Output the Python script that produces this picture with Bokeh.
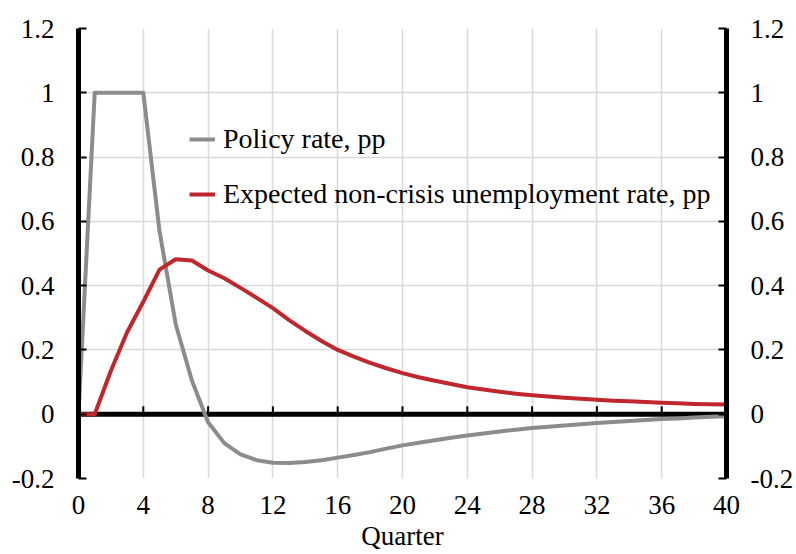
import numpy as np
from bokeh.plotting import figure
from bokeh.models import LinearAxis, FixedTicker, Span, Legend, LegendItem, Range1d
from bokeh.embed import file_html
from bokeh.resources import INLINE

quarters = list(range(41))
policy_rate = [0, 1, 1, 1, 1, 0.57, 0.28, 0.105, -0.025, -0.09, -0.125, -0.143, -0.151,
               -0.152, -0.149, -0.143, -0.135, -0.127, -0.118, -0.107, -0.097, -0.089,
               -0.081, -0.073, -0.066, -0.060, -0.054, -0.048, -0.043, -0.039, -0.035,
               -0.031, -0.027, -0.024, -0.021, -0.018, -0.015, -0.013, -0.010, -0.008, -0.006]
unemployment = [0, 0, 0.135, 0.255, 0.35, 0.45, 0.482, 0.478, 0.447, 0.423, 0.393, 0.362,
                0.33, 0.293, 0.259, 0.228, 0.2, 0.179, 0.16, 0.143, 0.128, 0.115, 0.104,
                0.094, 0.084, 0.077, 0.07, 0.064, 0.059, 0.055, 0.051, 0.048, 0.045, 0.042,
                0.04, 0.038, 0.036, 0.034, 0.032, 0.031, 0.03]
x_ticks = [0, 4, 8, 12, 16, 20, 24, 28, 32, 36, 40]
y_ticks = [-0.2, 0.0, 0.2, 0.4, 0.6, 0.8, 1.0, 1.2]
y_tick_labels = ["-0.2", "0", "0.2", "0.4", "0.6", "0.8", "1", "1.2"]
series_names = ["Policy rate, pp", "Expected non-crisis unemployment rate, pp"]

FONT = "Liberation Serif"
FS = "27px"
LFS = "28px"
GRID = "#d9d9d9"
GREY = "#8c8c8c"
RED = "#c0272d"

p = figure(width=796, height=554, x_range=Range1d(0, 40), y_range=Range1d(-0.2, 1.2),
           output_backend="svg", toolbar_location=None,
           min_border_left=78, min_border_right=69, min_border_top=28, min_border_bottom=76)
p.outline_line_color = None
p.background_fill_color = "white"

overrides = {t: l for t, l in zip(y_ticks, y_tick_labels)}

# x axis (labels only)
xa = p.xaxis[0]
xa.ticker = FixedTicker(ticks=x_ticks)
xa.axis_line_color = None
xa.major_tick_line_color = None
xa.minor_tick_line_color = None
xa.major_label_standoff = 11
xa.major_label_text_font = FONT
xa.major_label_text_font_size = FS
xa.major_label_text_color = "black"
xa.axis_label = "Quarter"
xa.axis_label_standoff = 4
xa.axis_label_text_font = FONT
xa.axis_label_text_font_size = FS
xa.axis_label_text_font_style = "normal"
xa.axis_label_text_color = "black"

def style_y(ax):
    ax.ticker = FixedTicker(ticks=y_ticks)
    ax.major_label_overrides = overrides
    ax.axis_line_width = 5
    ax.axis_line_color = "black"
    ax.major_tick_in = 8
    ax.major_tick_out = 0
    ax.major_tick_line_width = 2
    ax.major_tick_line_color = "black"
    ax.minor_tick_line_color = None
    ax.major_label_standoff = 24
    ax.major_label_text_font = FONT
    ax.major_label_text_font_size = FS
    ax.major_label_text_color = "black"

style_y(p.yaxis[0])
yr = LinearAxis()
style_y(yr)
p.add_layout(yr, "right")

for g in (p.xgrid[0], p.ygrid[0]):
    g.grid_line_color = GRID
    g.grid_line_width = 1.5

p.ygrid[0].ticker = FixedTicker(ticks=y_ticks)
p.xgrid[0].ticker = FixedTicker(ticks=x_ticks)

zero = Span(location=0, dimension="width", line_color="black", line_width=5, level="underlay")
p.add_layout(zero)
p.ray(x=x_ticks, y=[0] * len(x_ticks), length=8, length_units="screen", angle=np.pi / 2,
      line_color="black", line_width=2)

r1 = p.line(quarters, policy_rate, line_color=GREY, line_width=4, line_join="round")
r2 = p.line(quarters, unemployment, line_color=RED, line_width=4, line_join="round")

legend = Legend(items=[LegendItem(label=series_names[0], renderers=[r1]),
                       LegendItem(label=series_names[1], renderers=[r2])],
                location=(111, 268), border_line_color=None, background_fill_alpha=0,
                padding=0, margin=0, spacing=23, glyph_width=26, glyph_height=30,
                label_height=30, label_standoff=8, label_text_font=FONT,
                label_text_font_size=LFS, label_text_color="black")
p.add_layout(legend)

open("out.html", "w").write(file_html(p, INLINE))
